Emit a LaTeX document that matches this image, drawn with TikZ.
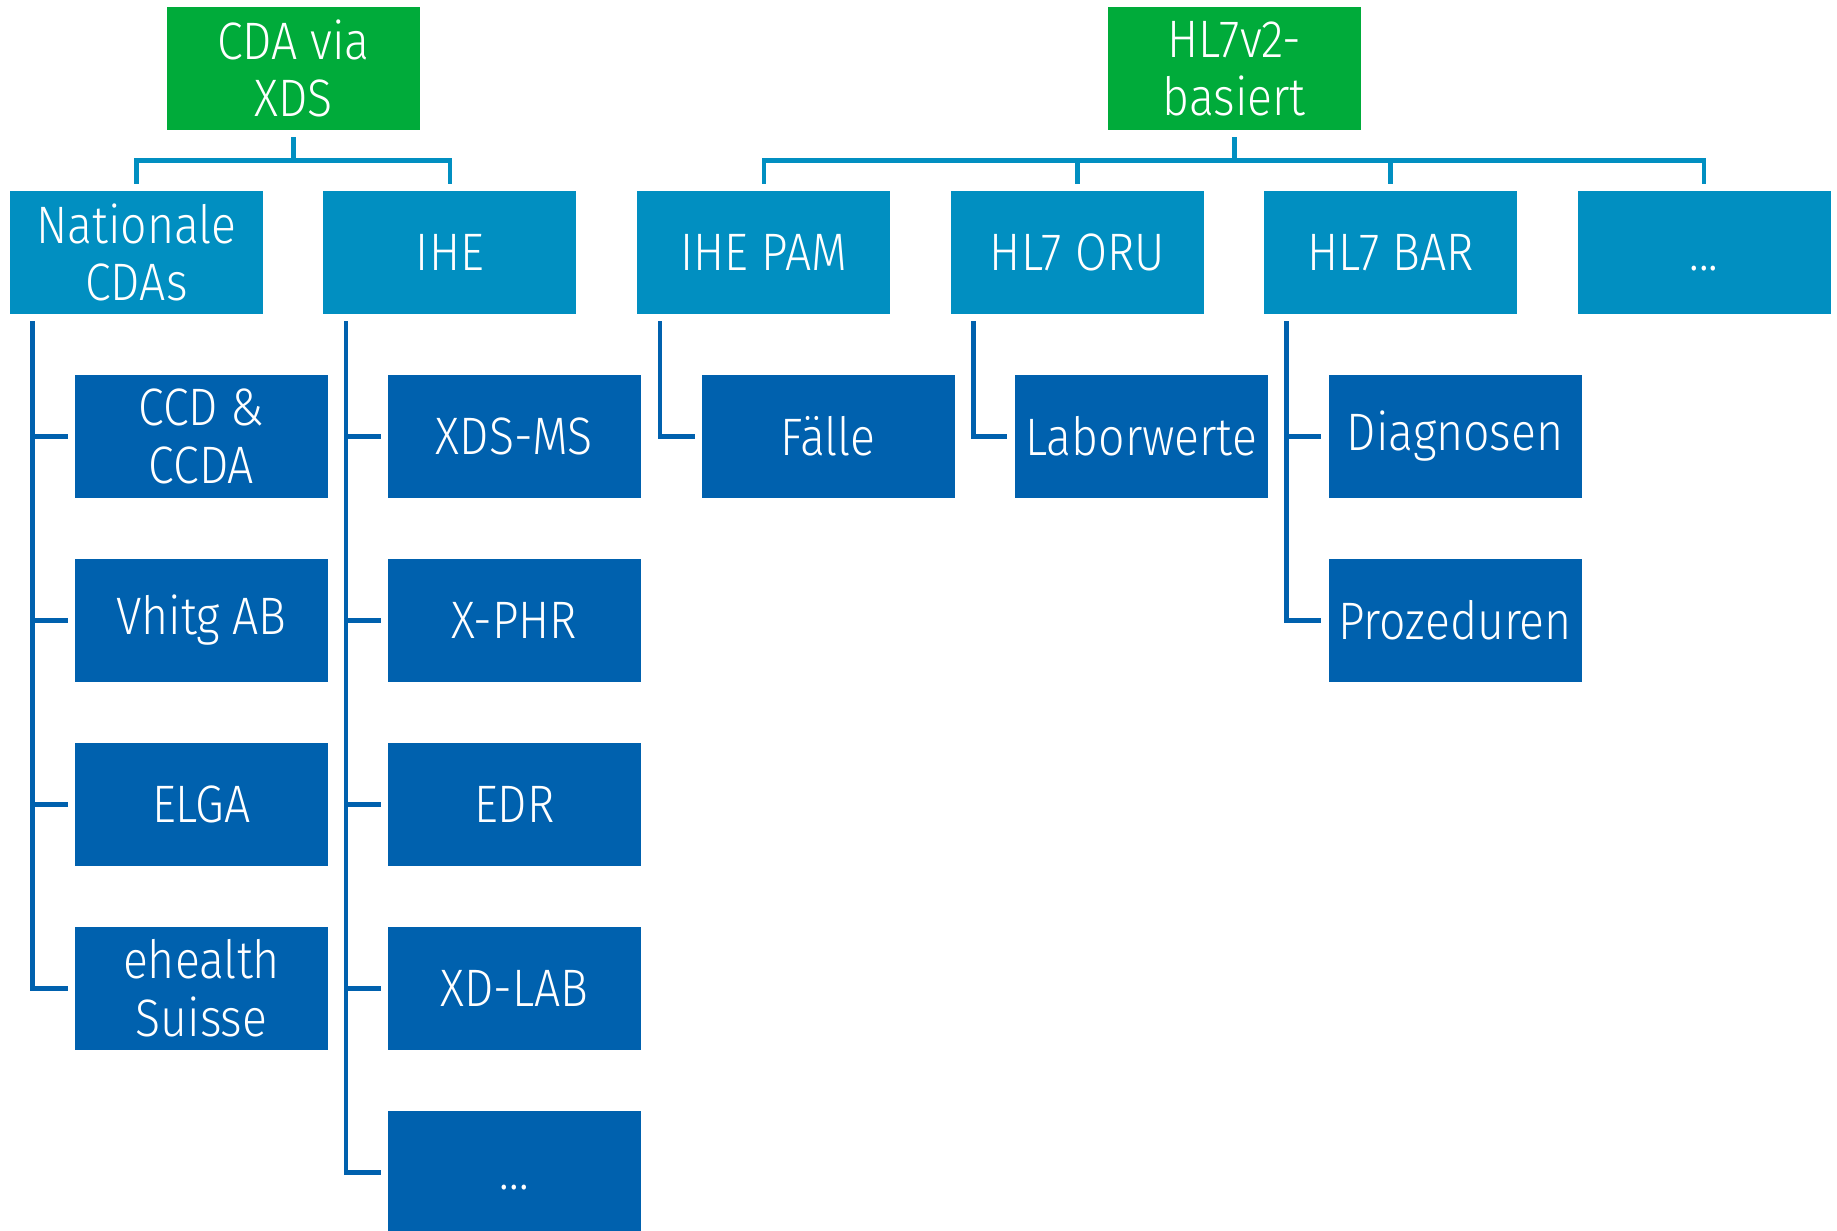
\documentclass[tikz,border=0pt]{standalone}
\usepackage{fontspec}
\setmainfont{Fira Sans}[UprightFont=* Light,FakeStretch=0.88]
\usetikzlibrary{calc}
\definecolor{grn}{HTML}{00AB3A}
\definecolor{tl}{HTML}{018FC1}
\definecolor{dk}{HTML}{0061AE}
\begin{document}
\begin{tikzpicture}[x=1pt,y=-1pt,
  box/.style={minimum width=216pt,minimum height=105pt,inner sep=0pt,align=center,text=white,
     font=\fontsize{45}{49}\selectfont},
  topbox/.style={box,fill=grn},
  midbox/.style={box,fill=tl},
  leafbox/.style={box,fill=dk},
  tline/.style={draw=tl,line width=4pt,line join=miter},
  dline/.style={draw=dk,line width=4pt,line join=miter}]
\useasboundingbox (0,0) rectangle (1568,1050);
\fill[white] (0,0) rectangle (1568,1050);
\clip (0,0) rectangle (1568,1050);
% top level
\node[topbox] (g1) at (250.5,58.5) {CDA via\\XDS};
\node[topbox] (g2) at (1053.5,58.5) {HL7v2-\\basiert};
% level 1
\node[midbox] (n1) at (116.5,215.5) {Nationale\\CDAs};
\node[midbox] (n2) at (384,215.5) {IHE};
\node[midbox] (p1) at (652,215.5) {IHE PAM};
\node[midbox] (p2) at (919.5,215.5) {HL7 ORU};
\node[midbox] (p3) at (1187,215.5) {HL7 BAR};
\node[midbox] (p4) at (1454.5,215.5) {\vphantom{I}...};
% level 2
\node[leafbox] (a1) at (172,372.5) {CCD \&\\CCDA};
\node[leafbox] (a2) at (172,529.5) {Vhitg AB};
\node[leafbox] (a3) at (172,686.5) {ELGA};
\node[leafbox] (a4) at (172,843.5) {ehealth\\Suisse};
\node[leafbox] (b1) at (439,372.5) {XDS-MS};
\node[leafbox] (b2) at (439,529.5) {X-PHR};
\node[leafbox] (b3) at (439,686.5) {EDR};
\node[leafbox] (b4) at (439,843.5) {XD-LAB};
\node[leafbox] (b5) at (439,1000.5) {\vphantom{I}...};
\node[leafbox] (c1) at (707,372.5) {Fälle};
\node[leafbox] (d1) at (974,372.5) {Laborwerte};
\node[leafbox] (e1) at (1242,372.5) {Diagnosen};
\node[leafbox] (e2) at (1242,529.5) {Prozeduren};
% top connectors
\coordinate (h1) at ($(g1.south)+(0,26)$);
\coordinate (h2) at ($(g2.south)+(0,26)$);
\draw[tline] ($(g1.south)+(0,6)$) -- (h1);
\draw[tline] ($(n1.north)+(0,-6)$) |- (h1) -| ($(n2.north)+(0,-6)$);
\draw[tline] ($(g2.south)+(0,6)$) -- (h2);
\draw[tline] ($(p1.north)+(0,-6)$) |- (h2) -| ($(p4.north)+(0,-6)$);
\draw[tline] ($(p2.north)+(0,-6)$) -- ($(p2.north)+(0,-26)$);
\draw[tline] ($(p3.north)+(0,-6)$) -- ($(p3.north)+(0,-26)$);
% level-2 connectors
\coordinate (tn1) at ($(n1.south west)+(19.5,6)$);
\coordinate (tn2) at ($(n2.south west)+(19.5,6)$);
\coordinate (tp1) at ($(p1.south west)+(19.5,6)$);
\coordinate (tp2) at ($(p2.south west)+(19.5,6)$);
\coordinate (tp3) at ($(p3.south west)+(19.5,6)$);
\draw[dline] (tn1) |- ($(a4.west)+(-6,0)$);
\foreach \c in {a1,a2,a3} \draw[dline] (tn1 |- \c.west) -- ($(\c.west)+(-6,0)$);
\draw[dline] (tn2) |- ($(b5.west)+(-6,0)$);
\foreach \c in {b1,b2,b3,b4} \draw[dline] (tn2 |- \c.west) -- ($(\c.west)+(-6,0)$);
\draw[dline] (tp1) |- ($(c1.west)+(-6,0)$);
\draw[dline] (tp2) |- ($(d1.west)+(-6,0)$);
\draw[dline] (tp3) |- ($(e2.west)+(-6,0)$);
\draw[dline] (tp3 |- e1.west) -- ($(e1.west)+(-6,0)$);
\end{tikzpicture}
\end{document}
